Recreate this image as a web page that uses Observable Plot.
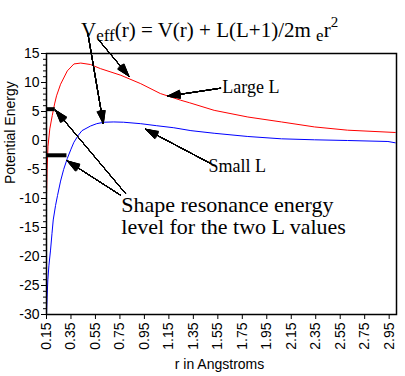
<!DOCTYPE html>
<html><head><meta charset="utf-8">
<script src="https://cdn.jsdelivr.net/npm/d3@7"></script>
<script src="https://cdn.jsdelivr.net/npm/@observablehq/plot@0.6"></script>
<style>
body{margin:0;background:#fff;}
#wrap{position:relative;width:405px;height:376px;}
#title{position:absolute;left:81px;top:20px;font-family:"Liberation Serif","Times New Roman",serif;font-size:21px;line-height:21px;white-space:nowrap;color:#000;z-index:2;}
#title .sub{position:relative;top:4px;font-size:17px;}
#title .sup{position:relative;top:-10px;font-size:15px;}
</style></head><body>
<div id="wrap"><div id="title">V<span class="sub">eff</span>(r) = V(r) + L(L+1)/2m <span class="sub">e</span>r<span class="sup">2</span></div></div>
<script>
// Large L curve (red)
const rLarge = [0.15,0.155,0.162,0.177,0.197,0.216,0.232,0.265,0.32,0.374,0.43,0.51,0.59,0.757,0.92,1.08,1.246,1.32,1.52,1.795,2.07,2.34,2.61,3.0];
const vLarge = [-9.6,-5,-1,2,4.3,6.3,7.7,9.7,12.0,13.2,13.35,13.1,12.4,11.25,9.8,8.1,6.95,6.5,5.2,4.05,3.2,2.34,1.78,1.38];
// Small L curve (blue)
const rSmall = [0.15,0.155,0.161,0.17,0.183,0.195,0.205,0.224,0.24,0.265,0.29,0.32,0.35,0.374,0.41,0.44,0.51,0.56,0.62,0.7,0.78,0.92,1.05,1.19,1.33,1.52,1.795,2.07,2.34,2.61,2.94,3.0];
const vSmall = [-30,-27,-24,-21.5,-18.9,-16,-13.7,-11.2,-9.5,-7,-5,-3.1,-1.5,-0.3,0.9,1.7,2.5,2.9,3.15,3.2,3.15,2.9,2.55,2.2,1.7,1.25,0.69,0.29,0.12,0,-0.17,-0.4];
// Axis ticks
const xTicks = [0.15,0.35,0.55,0.75,0.95,1.15,1.35,1.55,1.75,1.95,2.15,2.35,2.55,2.75,2.95];
const yTicks = [15,10,5,0,-5,-10,-15,-20,-25,-30];
const yMinor = d3.range(-30,16,1);
// Resonance levels (bars)
const levelE = [5.4,-2.55];
const levelREnd = [0.222,0.317];
// Annotation arrows (data units): start -> tip
const arrowX1 = [0.488,0.578,1.573,1.491,0.796,0.755];
const arrowY1 = [18.45,17.29,9.02,-3.97,-9.14,-9.43];
const arrowX2 = [0.614,0.823,1.139,0.959,0.224,0.319];
const arrowY2 = [2.93,11.09,7.64,1.95,5.22,-3.52];
// Annotation labels
const smallLabels = ["Large L","Small L"];
const smallLabelX = [1.587,1.474];
const smallLabelY = [9.1,-4.41];
const bigLabels = ["Shape resonance energy","level for the two L values"];
const bigLabelX = [0.761,0.761];
const bigLabelY = [-11.1,-14.9];

const large = rLarge.map((r,i)=>({r, v:vLarge[i]}));
const small = rSmall.map((r,i)=>({r, v:vSmall[i]}));
const levels = levelE.map((e,i)=>({e, x2:levelREnd[i]}));
const arrows = arrowX1.map((x,i)=>({x1:x,y1:arrowY1[i],x2:arrowX2[i],y2:arrowY2[i]}));
const sLab = smallLabels.map((t,i)=>({t,x:smallLabelX[i],y:smallLabelY[i]}));
const bLab = bigLabels.map((t,i)=>({t,x:bigLabelX[i],y:bigLabelY[i]}));
const serif = '"Liberation Serif","Times New Roman",serif';

const fan = d3.range(4,38,3).map(a => Plot.arrow(arrows,{x1:"x1",y1:"y1",x2:"x2",y2:"y2",headAngle:a,headLength:19.5,stroke:"black",strokeWidth:1}));

const chart = Plot.plot({
  width:405, height:376,
  marginLeft:46, marginRight:9, marginTop:53, marginBottom:62,
  x:{domain:[0.15,3.01]},
  y:{domain:[-30,15]},
  style:{fontFamily:'"Liberation Sans",Arial,sans-serif', fontSize:"14px", background:"white", color:"black"},
  marks:[
    Plot.axisY({ticks:yMinor, tickSize:3, tickFormat:()=>"", label:null}),
    Plot.axisY({ticks:yTicks, tickSize:5, tickPadding:2, tickFormat:d=>String(d), label:null}),
    Plot.axisX({ticks:xTicks, tickSize:5, tickPadding:3, tickRotate:-90, tickFormat:d=>d.toFixed(2), label:null}),
    Plot.text(["r in Angstroms"],{text:d=>d, frameAnchor:"bottom", dy:54, dx:-2, fontSize:14}),
    Plot.text(["Potential Energy"],{text:d=>d, frameAnchor:"left", rotate:-90, dx:-35.5, fontSize:14}),
    Plot.line(large,{x:"r", y:"v", stroke:"red", strokeWidth:1}),
    Plot.line(small,{x:"r", y:"v", stroke:"blue", strokeWidth:1}),
    Plot.ruleY(levels,{y:"e", x1:0.15, x2:"x2", stroke:"black", strokeWidth:4}),
    ...fan,
    Plot.text(sLab,{x:"x", y:"y", text:"t", textAnchor:"start", fontFamily:serif, fontSize:18, fill:"black"}),
    Plot.text(bLab,{x:"x", y:"y", text:"t", textAnchor:"start", fontFamily:serif, fontSize:22, fill:"black"}),
    Plot.frame({stroke:"black", strokeWidth:1.5})
  ]
});
document.getElementById("wrap").appendChild(chart);
chart.style.position="absolute"; chart.style.left="0"; chart.style.top="0";
</script>
</body></html>
